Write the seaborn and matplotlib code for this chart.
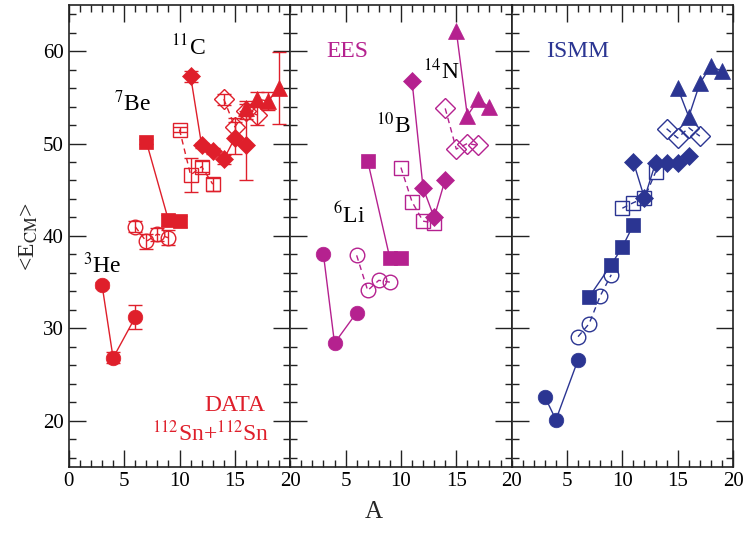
import numpy as np
import matplotlib
matplotlib.use("Agg")
import matplotlib.pyplot as plt
from matplotlib.ticker import MultipleLocator
import seaborn as sns

# ---- DATA panel (112Sn+112Sn) ----
data_he_a = [3, 4, 6]
data_he_e = [34.7, 26.8, 31.2]
data_he_err = [0.3, 0.6, 1.3]
data_li_a = [6, 7, 8, 9]
data_li_e = [41.0, 39.4, 40.2, 39.8]
data_li_err = [0.6, 0.8, 0.7, 0.8]
data_be_a = [7, 9, 10]
data_be_e = [50.2, 41.7, 41.6]
data_be_err = [0.3, 0.6, 0.6]
data_b_a = [10, 11, 12, 13]
data_b_e = [51.5, 46.6, 47.5, 45.6]
data_b_err = [0.3, 1.8, 0.6, 0.7]
data_c_a = [11, 12, 13, 14, 15, 16]
data_c_e = [57.3, 49.8, 49.2, 48.3, 50.6, 49.8]
data_c_err = [0.6, 0.3, 0.3, 0.5, 1.7, 3.7]
data_n_a = [14, 15, 16, 17]
data_n_e = [54.8, 51.8, 53.5, 53.1]
data_n_err = [0.6, 1.0, 0.8, 1.1]
data_o_a = [16, 17, 18, 19]
data_o_e = [53.8, 54.8, 54.6, 56.0]
data_o_err = [0.8, 0.8, 1.0, 3.9]

# ---- EES panel ----
ees_he_a = [3, 4, 6]
ees_he_e = [38.0, 28.4, 31.7]
ees_li_a = [6, 7, 8, 9]
ees_li_e = [37.9, 34.1, 35.2, 35.0]
ees_be_a = [7, 9, 10]
ees_be_e = [48.1, 37.6, 37.6]
ees_b_a = [10, 11, 12, 13]
ees_b_e = [47.4, 43.7, 41.6, 41.4]
ees_c_a = [11, 12, 13, 14]
ees_c_e = [56.8, 45.2, 42.0, 46.1]
ees_n_a = [14, 15, 16, 17]
ees_n_e = [53.8, 49.4, 50.0, 49.8]
ees_o_a = [15, 16, 17, 18]
ees_o_e = [62.2, 53.0, 54.8, 53.9]

# ---- ISMM panel ----
ismm_he_a = [3, 4, 6]
ismm_he_e = [22.6, 20.1, 26.6]
ismm_li_a = [6, 7, 8, 9]
ismm_li_e = [29.1, 30.5, 33.5, 35.8]
ismm_be_a = [7, 9, 10, 11]
ismm_be_e = [33.4, 36.9, 38.8, 41.2]
ismm_b_a = [10, 11, 12, 13]
ismm_b_e = [43.0, 43.6, 44.1, 46.9]
ismm_c_a = [11, 12, 13, 14, 15, 16]
ismm_c_e = [48.0, 44.1, 47.9, 47.9, 47.9, 48.7]
ismm_n_a = [14, 15, 16, 17]
ismm_n_e = [51.6, 50.6, 51.7, 50.8]
ismm_o_a = [15, 16, 17, 18, 19]
ismm_o_e = [56.0, 52.9, 56.5, 58.4, 57.8]

RED = "#df1f2b"
MAG = "#b5218f"
NAVY = "#2b3592"

sns.set_style("ticks")
plt.rcParams["font.family"] = ["Liberation Serif", "DejaVu Serif"]
plt.rcParams["mathtext.fontset"] = "stix"

fig, axes = plt.subplots(1, 3, figsize=(7.48, 5.43), dpi=100, sharey=True)
fig.subplots_adjust(left=0.092, right=0.98, bottom=0.14, top=0.991, wspace=0)

# marker, filled?, size
styles = {
    "he": ("o", True, 10.5),
    "li": ("o", False, 10.5),
    "be": ("s", True, 9.5),
    "b": ("s", False, 9.5),
    "c": ("D", True, 9),
    "n": ("D", False, 10),
    "o": ("^", True, 11),
}


def draw(ax, a, e, kind, color, err=None):
    m, filled, ms = styles[kind]
    sns.lineplot(x=a, y=e, ax=ax, color=color, sort=False, estimator=None,
                 linewidth=1.0, linestyle="-" if filled else (0, (4, 3)),
                 marker=m, markersize=ms,
                 markerfacecolor=color if filled else "none",
                 markeredgecolor=color, markeredgewidth=1.0 if not filled else 0.5,
                 zorder=3)
    if err is not None:
        ax.errorbar(a, e, yerr=err, fmt="none", ecolor=color, elinewidth=1.0,
                    capsize=5, capthick=1.0, zorder=2)


ax1, ax2, ax3 = axes
draw(ax1, data_he_a, data_he_e, "he", RED, data_he_err)
draw(ax1, data_li_a, data_li_e, "li", RED, data_li_err)
draw(ax1, data_be_a, data_be_e, "be", RED, data_be_err)
draw(ax1, data_b_a, data_b_e, "b", RED, data_b_err)
draw(ax1, data_c_a, data_c_e, "c", RED, data_c_err)
draw(ax1, data_n_a, data_n_e, "n", RED, data_n_err)
draw(ax1, data_o_a, data_o_e, "o", RED, data_o_err)

draw(ax2, ees_he_a, ees_he_e, "he", MAG)
draw(ax2, ees_li_a, ees_li_e, "li", MAG)
draw(ax2, ees_be_a, ees_be_e, "be", MAG)
draw(ax2, ees_b_a, ees_b_e, "b", MAG)
draw(ax2, ees_c_a, ees_c_e, "c", MAG)
draw(ax2, ees_n_a, ees_n_e, "n", MAG)
draw(ax2, ees_o_a, ees_o_e, "o", MAG)

draw(ax3, ismm_he_a, ismm_he_e, "he", NAVY)
draw(ax3, ismm_li_a, ismm_li_e, "li", NAVY)
draw(ax3, ismm_be_a, ismm_be_e, "be", NAVY)
draw(ax3, ismm_b_a, ismm_b_e, "b", NAVY)
draw(ax3, ismm_c_a, ismm_c_e, "c", NAVY)
draw(ax3, ismm_n_a, ismm_n_e, "n", NAVY)
draw(ax3, ismm_o_a, ismm_o_e, "o", NAVY)

for i, ax in enumerate(axes):
    ax.set_xlim(0, 20)
    ax.set_ylim(15, 65)
    ax.xaxis.set_major_locator(MultipleLocator(5))
    ax.xaxis.set_minor_locator(MultipleLocator(1))
    ax.yaxis.set_major_locator(MultipleLocator(10))
    ax.yaxis.set_minor_locator(MultipleLocator(2))
    ax.tick_params(which="both", direction="in", top=True, right=True,
                   left=True, bottom=True, width=1.0, colors="#222222",
                   labelsize=15, labelcolor="black")
    ax.tick_params(which="major", length=12)
    ax.tick_params(which="minor", length=5)
    for s in ax.spines.values():
        s.set_visible(True)
        s.set_linewidth(1.2)
        s.set_color("#222222")
    ax.set_xlabel("")
    ax.set_ylabel("")
    if i > 0:
        ax.set_xticks([5, 10, 15, 20])
        ax.xaxis.set_minor_locator(MultipleLocator(1))
    else:
        ax.set_xticks([0, 5, 10, 15, 20])

ax1.set_yticks([20, 30, 40, 50, 60])
ax1.set_ylabel(r"<E$_{\rm CM}$>", fontsize=17, labelpad=2)
fig.text(0.5, 0.058, "A", ha="center", va="center", fontsize=18)

# annotations
tk = dict(fontsize=17, color="black", ha="center", va="center")
ax1.text(10.8, 60.4, r"$^{11}$C", **tk)
ax1.text(5.8, 54.3, r"$^{7}$Be", **tk)
ax1.text(3.0, 36.8, r"$^{3}$He", **tk)
ax1.text(15.0, 21.6, "DATA", fontsize=17, color=RED, ha="center", va="center")
ax1.text(12.8, 18.6, r"$^{112}$Sn+$^{112}$Sn", fontsize=17, color=RED,
         ha="center", va="center")

ax2.text(5.2, 60.0, "EES", fontsize=17, color=MAG, ha="center", va="center")
ax2.text(13.6, 57.8, r"$^{14}$N", **tk)
ax2.text(9.3, 52.0, r"$^{10}$B", **tk)
ax2.text(5.3, 42.2, r"$^{6}$Li", **tk)

ax3.text(6.0, 60.0, "ISMM", fontsize=17, color=NAVY, ha="center", va="center")

plt.savefig("out.png", dpi=100)
